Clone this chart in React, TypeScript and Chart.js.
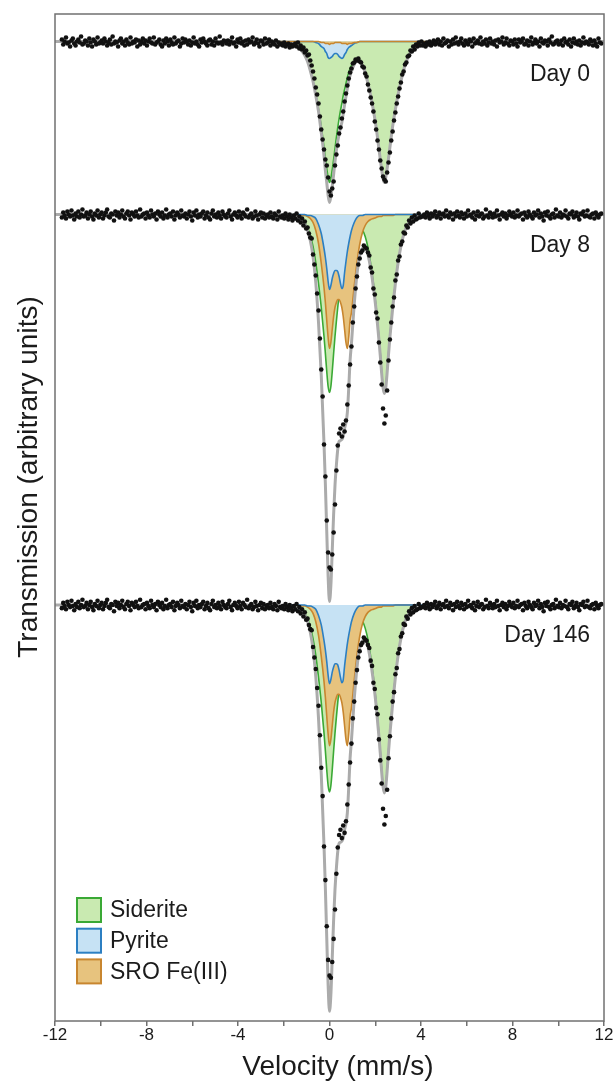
import React, { useEffect, useRef } from 'react';
import { Chart, registerables } from 'chart.js';

Chart.register(...registerables);

// ---------------- data ----------------
const spectrumLabels = ['Day 0', 'Day 8', 'Day 146'];
const componentNames = ['Siderite', 'Pyrite', 'SRO Fe(III)'];
const velocityTickLabels = [-12, -8, -4, 0, 4, 8, 12];

// channel calibration of the measured points (mm/s)
const channelStart = -11.7;
const channelStep = 0.06;

// velocity grid of the fitted curves (mm/s)
const fitVelocity = [
  -12, -4, -2.4, -1.8, -1.5, -1.26, -1.08, -0.96, -0.84, -0.72, -0.6, -0.48, -0.36, -0.24, -0.18, -0.12,
  -0.06, 0, 0.06, 0.12, 0.18, 0.24, 0.3, 0.36, 0.42, 0.48, 0.54, 0.6, 0.66, 0.72, 0.78, 0.84, 0.9, 0.96,
  1.08, 1.2, 1.32, 1.44, 1.56, 1.68, 1.8, 1.92, 2.04, 2.16, 2.22, 2.28, 2.34, 2.4, 2.46, 2.52, 2.58, 2.64,
  2.76, 2.88, 3.0, 3.12, 3.3, 3.54, 3.84, 4.2, 5, 7, 12,
];

// fitted absorption (arbitrary units) — Day 0
const day0Siderite = [
  0, 0, 1, 2, 3, 8, 14, 20, 29, 40, 53, 68, 85, 106, 117, 127, 136, 141, 137, 128, 118, 107, 96, 86, 77,
  69, 62, 54, 48, 42, 36, 31, 27, 24, 20, 18, 20, 24, 31, 42, 54, 69, 86, 107, 118, 128, 137, 141, 136,
  127, 117, 106, 85, 68, 53, 40, 24, 11, 4, 2, 0, 0, 0,
];
const day0Pyrite = [
  0, 0, 0, 0, 0, 0, 0, 0, 0, 0, 1, 2, 5, 7, 10, 12, 16, 17, 16, 15, 13, 12, 12, 13, 15, 16, 17, 16, 13, 11,
  8, 6, 5, 4, 2, 1, 0, 0, 0, 0, 0, 0, 0, 0, 0, 0, 0, 0, 0, 0, 0, 0, 0, 0, 0, 0, 0, 0, 0, 0, 0, 0, 0,
];
const day0Sro = [
  0, 0, 0, 0, 0, 0, 0, 0, 0, 0, 0, 0, 1, 1, 2, 2, 2, 3, 2, 2, 2, 1, 1, 1, 1, 1, 2, 2, 2, 2, 3, 2, 2, 2,
  1, 1, 0, 0, 0, 0, 0, 0, 0, 0, 0, 0, 0, 0, 0, 0, 0, 0, 0, 0, 0, 0, 0, 0, 0, 0, 0, 0, 0,
];
const day0Fit = [
  0, 0, 1, 2, 3, 8, 14, 20, 29, 40, 54, 70, 91, 114, 129, 141, 154, 161, 155, 145, 133, 120, 109, 100, 93,
  86, 81, 72, 63, 55, 47, 39, 34, 30, 23, 20, 20, 24, 31, 42, 54, 69, 86, 107, 118, 128, 137, 141, 136,
  127, 117, 106, 85, 68, 53, 40, 24, 11, 4, 2, 0, 0, 0,
];

// fitted absorption — Day 8 (the Day 146 panel of the figure shows the same curves, drawn taller)
const day8Siderite = [
  0, 0, 0, 1, 2, 4, 8, 13, 21, 32, 48, 69, 93, 122, 139, 157, 172, 178, 172, 157, 139, 122, 107, 93, 80,
  69, 58, 49, 41, 33, 27, 22, 18, 15, 10, 9, 10, 15, 22, 33, 49, 69, 93, 123, 139, 157, 172, 178, 172,
  157, 139, 122, 93, 69, 48, 32, 16, 6, 2, 1, 0, 0, 0,
];
const day8Pyrite = [
  0, 0, 0, 0, 0, 0, 0, 1, 1, 2, 4, 10, 19, 34, 43, 54, 67, 75, 71, 64, 59, 56, 56, 57, 62, 69, 74, 71, 58,
  47, 37, 29, 22, 16, 8, 3, 1, 1, 0, 0, 0, 0, 0, 0, 0, 0, 0, 0, 0, 0, 0, 0, 0, 0, 0, 0, 0, 0, 0, 0, 0, 0, 0,
];
const day8Sro = [
  0, 0, 0, 0, 0, 1, 1, 2, 4, 8, 16, 29, 49, 73, 88, 106, 123, 134, 128, 115, 102, 93, 88, 85, 85, 88, 93,
  102, 115, 128, 134, 123, 106, 98, 72, 48, 30, 18, 11, 7, 5, 4, 3, 2, 2, 2, 1, 1, 1, 1, 1, 1, 1, 0, 0, 0,
  0, 0, 0, 0, 0, 0, 0,
];
const day8Fit = [
  0, 0, 0, 1, 2, 5, 9, 16, 26, 42, 68, 108, 161, 229, 270, 317, 362, 387, 371, 336, 300, 271, 251, 235,
  227, 226, 225, 222, 214, 208, 198, 174, 146, 129, 90, 60, 41, 34, 33, 40, 54, 73, 96, 125, 141, 159,
  173, 179, 173, 158, 140, 123, 94, 69, 48, 32, 16, 6, 2, 1, 0, 0, 0,
];

// measured absorption per channel (arbitrary units)
const day0Absorption = [
  -2, 3, 0, -4, 2, 1, 5, -1, -3, 2, 4, 0, -2, 1, -5, 3, 2, -1, 0, 4,
  -3, 1, 5, -2, 0, 3, -4, 2, 1, -1, 2, -3, 0, 4, 1, -2, 3, -5, 2, 0,
  1, 5, -1, -3, 2, 0, 4, -2, 1, 3, -4, 2, 0, 1, -2, 5, -1, 3, 0, -3,
  2, -1, 4, 0, -3, 1, 2, -4, 3, 1, 0, -2, 3, 5, -1, 2, -3, 0, 4, -2,
  1, 3, -4, 2, 0, -1, 5, 2, -3, 1, -2, 0, 3, -1, 4, 1, -4, 2, 0, 3,
  5, -2, 1, -3, 0, 2, 4, -1, -2, 3, 0, 4, -3, 1, 2, -5, 1, 3, -1, 0,
  2, -1, 3, 0, -4, 2, 1, 5, -2, 1, -3, 2, 0, 4, -1, 3, -2, 1, 0, -4,
  3, 1, -2, 2, 5, -1, 0, 3, -3, 2, 1, -2, 4, 0, 2, 3, -1, 5, 1, 3,
  2, 4, 1, 5, 3, 2, 6, 3, 5, 4,
  2, 5, 1, 7, 4, 8, 6, 11, 9, 14, 13, 19, 24, 30, 37, 46, 53, 62, 75, 88, 98, 108, 118, 124, 136,
  150, 154, 147, 140, 124, 113, 104, 92, 86, 77, 70, 60, 52, 44, 37, 31, 27, 22, 21, 18,
  19, 17, 20, 21, 25, 26, 32, 35, 43, 49, 56, 62, 70, 80, 88, 99, 108, 119, 127, 135,
  138, 140, 131, 121, 111, 99, 90, 79, 71, 62, 55, 47, 41, 33, 30, 23, 21, 15, 14, 9,
  10, 5, 8, 3, 5, 1, 4, 0,
  4, 2, 5, 1, 3, 0, 4, 2, -1, 3, 1, -2, 3, 0, 4, -3, 2, 1, -1, 5,
  0, 3, -2, 2, -4, 1, 3, 0, -3, 2, 4, -1, 1, 3, -2, 0, 5, -3, 2, 1,
  -1, 2, -4, 3, 0, 2, -2, 4, 1, -3, 2, 0, 3, -1, 5, -2, 1, 0, -4, 3,
  1, -3, 2, 4, -1, 0, 3, -2, 2, 5, -2, 1, 0, -3, 3, 2, -1, 4, 0, -4,
  3, 1, -2, 2, 0, 5, -3, 1, 2, -1, 0, 4, -2, 1, -5, 3, 2, 0, -1, 3,
  2, -1, 4, -3, 1, 0, 3, -2, 5, 1, -3, 2, 0, 3, -1, 4, 1, -4, 2, 0,
  1, 3, -2, 0, 4, -1, 2, 5, -3, 1, 2,
];

const day8Absorption = [
  3, -2, 1, 4, -3, 0, 2, -4, 1, 5, -1, 2, -3, 3, 0, -5, 2, 1, -2, 4,
  0, -3, 2, 5, -1, 1, -4, 3, 0, -2, 4, 1, -2, -5, 2, 3, -1, 0, 6, -3,
  1, -2, 3, 0, -4, 2, 4, -1, -3, 1, 5, -2, 0, 2, -3, 1, 3, -5, 2, 0,
  -1, 4, -2, 1, 3, -4, 0, 2, -1, 5, -3, 0, 2, -2, 4, 1, -5, 3, 0, -1,
  2, -3, 5, 1, -2, 0, 3, -4, 1, 2, -1, 4, 0, -3, 2, 6, -2, 1, -4, 3,
  0, 2, -1, -3, 4, 1, -2, 3, 5, -1, -4, 2, 0, 3, -2, 1, 4, -3, 0, 2,
  3, -1, -4, 2, 5, 0, -2, 1, 3, -3, 1, 4, -2, 0, 2, -5, 3, 1, -1, 4,
  2, -3, 1, 5, 0, -2, 3, -1, 4, 1, 0, 3, -2, 2, 4, -1, 1, 5, -3, 2,
  3, 1, 4, -1, 2, 5, 0, 3, 6, 1,
  4, -1, 6, 2, 8, 4, 11, 7, 14, 13, 19, 23, 24, 40, 50, 61, 79, 96, 124, 155, 182, 230, 262, 306, 338,
  353, 355, 340, 318, 290, 256, 231, 219, 214, 222, 210, 217, 206, 190, 171, 150, 132, 108, 92, 74,
  62, 50, 44, 38, 36, 31, 33, 34, 38, 41, 53, 58, 74, 80, 98, 104, 128, 148, 170, 194,
  209, 201, 176, 146, 125, 108, 92, 83, 66, 60, 46, 42, 30, 27, 18, 19, 11, 13, 6, 9,
  3, 7, 1, 5, 4, -1, 3, 2,
  2, 0, 3, -2, 1, 4, -1, 2, 0, -3, 3, 1, -2, 4, 0, -1, 2, -4, 1, 3,
  -2, 0, 5, -1, 2, -3, 1, 3, -2, 0, 4, -1, 2, -4, 1, 0, 3, -2, 5, 1,
  -3, 2, 0, -1, 4, 2, -5, 1, 3, -2, 0, 3, -1, 2, -4, 1, 5, 0, -2, 2,
  -1, 4, 1, -3, 0, 2, -2, 3, 1, -4, 2, 0, -1, 5, -2, 1, 3, -3, 0, 2,
  4, -2, 1, 0, -4, 3, -1, 2, 6, -2, 1, -3, 2, 4, 0, -1, 3, -5, 1, 2,
  -2, 3, 0, 1, -4, 2, 4, -1, 0, -3, 3, 1, -2, 2, 5, -1, 0, -3, 2, 1,
  -4, 2, 3, 0, -1, 4, -2, 1, 3, 0, -1,
];

// Day 146: the figure repeats the Day 8 counts and fit, plotted with a taller scale
const day146Absorption = day8Absorption;
const day146Siderite = day8Siderite;
const day146Pyrite = day8Pyrite;
const day146Sro = day8Sro;
const day146Fit = day8Fit;

// ---------------- styles ----------------
const FONT = '"Liberation Sans", Arial, Helvetica, sans-serif';
const TEXT = '#1b1b1b';
const STYLE = {
  siderite: { fill: '#c9eab1', line: '#3aa935' },
  pyrite: { fill: '#c6e2f4', line: '#2c7fc2' },
  sro: { fill: '#e7c37e', line: '#c8862f' },
  fit: '#ababab',
  dot: '#111111',
};
const legendStyles = [STYLE.siderite, STYLE.pyrite, STYLE.sro];

const curve = (vals: number[]) => fitVelocity.map((v, i) => ({ x: v, y: vals[i] }));
const channels = (vals: number[]) =>
  vals.map((a, i) => ({ x: Math.round((channelStart + i * channelStep) * 100) / 100, y: a }));

function component(label: string, vals: number[], axis: string, st: { fill: string; line: string }, order: number) {
  return {
    type: 'line' as const,
    label,
    data: curve(vals),
    yAxisID: axis,
    borderColor: st.line,
    backgroundColor: st.fill,
    borderWidth: 1.6,
    pointRadius: 0,
    cubicInterpolationMode: 'monotone' as const,
    fill: { value: 0 },
    order,
  };
}

function spectrumDatasets(
  axis: string,
  sid: number[],
  pyr: number[],
  sro: number[],
  fit: number[],
  counts: number[],
  sroInFront: boolean,
) {
  return [
    {
      type: 'scatter' as const,
      label: 'data',
      data: channels(counts),
      yAxisID: axis,
      pointRadius: 2.3,
      pointBorderWidth: 0,
      backgroundColor: STYLE.dot,
      borderColor: STYLE.dot,
      showLine: false,
      order: 0,
    },
    {
      type: 'line' as const,
      label: 'fit',
      data: curve(fit),
      yAxisID: axis,
      borderColor: STYLE.fit,
      borderWidth: 3,
      pointRadius: 0,
      cubicInterpolationMode: 'monotone' as const,
      fill: false,
      order: 1,
    },
    component(componentNames[1], pyr, axis, STYLE.pyrite, sroInFront ? 3 : 2),
    component(componentNames[2], sro, axis, STYLE.sro, sroInFront ? 2 : 3),
    component(componentNames[0], sid, axis, STYLE.siderite, 4),
  ];
}

const decorPlugin = {
  id: 'mossbauerDecor',
  afterDatasetsDraw(chart: any) {
    const { ctx, chartArea: a } = chart;
    ctx.save();
    ctx.strokeStyle = '#707070';
    ctx.lineWidth = 1.5;
    ctx.strokeRect(a.left, a.top, a.right - a.left, a.bottom - a.top);
    ctx.restore();
  },
  afterDraw(chart: any) {
    const { ctx } = chart;
    ctx.save();
    ctx.fillStyle = TEXT;
    ctx.textBaseline = 'middle';
    ctx.textAlign = 'center';
    ctx.font = `28px ${FONT}`;
    ctx.fillText('Velocity (mm/s)', 338, 1067);
    ctx.save();
    ctx.translate(29, 477);
    ctx.rotate(-Math.PI / 2);
    ctx.fillText('Transmission (arbitrary units)', 0, 0);
    ctx.restore();

    ctx.font = `23px ${FONT}`;
    ctx.textAlign = 'right';
    const dayPos = [
      [590, 75],
      [590, 246],
      [590, 636],
    ];
    spectrumLabels.forEach((t, i) => ctx.fillText(t, dayPos[i][0], dayPos[i][1]));

    ctx.textAlign = 'left';
    componentNames.forEach((name, i) => {
      const y = 898 + i * 30.7;
      ctx.fillStyle = legendStyles[i].fill;
      ctx.fillRect(77, y, 24, 24);
      ctx.strokeStyle = legendStyles[i].line;
      ctx.lineWidth = 2;
      ctx.strokeRect(77, y, 24, 24);
      ctx.fillStyle = TEXT;
      ctx.fillText(name, 110, y + 13);
    });
    ctx.restore();
  },
};

export default function App() {
  const ref = useRef<HTMLCanvasElement | null>(null);

  useEffect(() => {
    if (!ref.current) return;
    const datasets = [
      ...spectrumDatasets('yDay0', day0Siderite, day0Pyrite, day0Sro, day0Fit, day0Absorption, true),
      ...spectrumDatasets('yDay8', day8Siderite, day8Pyrite, day8Sro, day8Fit, day8Absorption, false),
      ...spectrumDatasets('yDay146', day146Siderite, day146Pyrite, day146Sro, day146Fit, day146Absorption, false),
    ];
    const hiddenY = (min: number, max: number) => ({
      type: 'linear' as const,
      display: false,
      reverse: true,
      min,
      max,
    });
    const chart = new Chart(ref.current, {
      type: 'line',
      data: { datasets: datasets as any },
      options: {
        responsive: false,
        animation: false,
        events: [],
        layout: { padding: { left: 55, right: 10, top: 14, bottom: 0 } },
        plugins: { legend: { display: false }, tooltip: { enabled: false } },
        scales: {
          x: {
            type: 'linear',
            min: -12,
            max: 12,
            position: 'bottom',
            afterFit: (s: any) => {
              s.height = 63;
              s.paddingLeft = 0;
              s.paddingRight = 0;
            },
            border: { display: false },
            grid: { drawOnChartArea: false, drawTicks: true, tickLength: 5, color: '#707070', lineWidth: 1.5 },
            ticks: {
              stepSize: 2,
              autoSkip: false,
              maxRotation: 0,
              padding: -1,
              color: TEXT,
              font: { family: FONT, size: 17 },
              callback: (v: any) => (velocityTickLabels.includes(Number(v)) ? String(v) : ''),
            },
          },
          yDay0: hiddenY(-27.5, 979.5),
          yDay8: hiddenY(-200.5, 806.5),
          yDay146: hiddenY(-562.86, 396.19),
        },
      },
      plugins: [decorPlugin],
    });
    return () => chart.destroy();
  }, []);

  return (
    <div style={{ position: 'absolute', left: 0, top: 0, width: 614, height: 1084 }}>
      <canvas ref={ref} width={614} height={1084} style={{ display: 'block' }} />
    </div>
  );
}
